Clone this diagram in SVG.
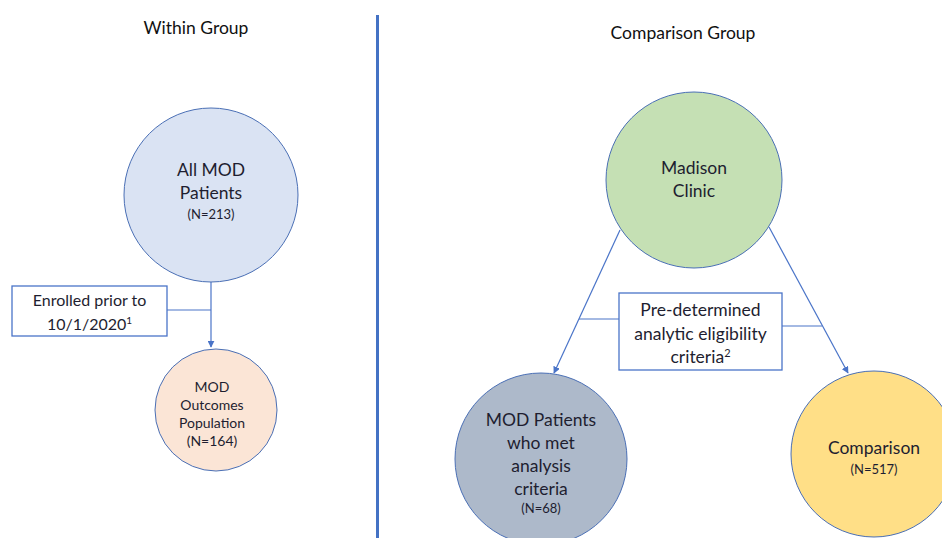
<svg xmlns="http://www.w3.org/2000/svg" width="942" height="538" viewBox="0 0 942 538">
<style>
text{font-family:Lato,"Open Sans","Liberation Sans",sans-serif;fill:#1e1e30;text-anchor:middle}
.node{stroke:#4a6fb5;stroke-width:1}
.conn{stroke:#4a74c8;stroke-width:1.2;fill:none}
.box{fill:#fff;stroke:#4a74c8;stroke-width:1.3}
.t{font-size:17.5px}
.s{font-size:13px}
.h{font-size:17.5px;fill:#111}
</style>
<defs>
<marker id="ah" viewBox="0 0 10 10" refX="9" refY="5" markerWidth="7" markerHeight="7" orient="auto" markerUnits="userSpaceOnUse">
<path d="M0,0 L10,5 L0,10 z" fill="#4a74c8"/>
</marker>
</defs>
<rect width="942" height="538" fill="#fff"/>
<text class="h" x="196" y="34">Within Group</text>
<text class="h" x="683" y="39">Comparison Group</text>
<line x1="377.5" y1="15" x2="377.5" y2="538" stroke="#4472c4" stroke-width="3"/>

<g id="connectors">
<line class="conn" x1="211" y1="282" x2="211" y2="347" marker-end="url(#ah)"/>
<line class="conn" x1="167" y1="310" x2="211" y2="310"/>
<line class="conn" x1="620" y1="230" x2="554" y2="373" marker-end="url(#ah)"/>
<line class="conn" x1="769" y1="227" x2="848" y2="373" marker-end="url(#ah)"/>
<line class="conn" x1="579" y1="319" x2="619" y2="319"/>
<line class="conn" x1="782" y1="326" x2="822" y2="326"/>
</g>

<g id="all-mod">
<circle class="node" cx="211" cy="195" r="87" fill="#dae3f3"/>
<text class="t" x="211" y="176">All MOD</text>
<text class="t" x="211" y="199">Patients</text>
<text class="s" x="211" y="219">(N=213)</text>
</g>

<g id="enrolled">
<rect class="box" x="12" y="286" width="155" height="50"/>
<text x="89.5" y="306" font-size="16">Enrolled prior to</text>
<text x="89.5" y="330" font-size="16">10/1/2020<tspan font-size="10" dy="-6">1</tspan></text>
</g>

<g id="outcomes">
<circle class="node" cx="216" cy="410" r="61" fill="#fbe5d6"/>
<text x="212" y="392" font-size="14">MOD</text>
<text x="212" y="410" font-size="14">Outcomes</text>
<text x="212" y="428" font-size="14">Population</text>
<text x="212" y="446" font-size="14">(N=164)</text>
</g>

<g id="madison">
<circle class="node" cx="694" cy="180" r="88" fill="#c5e0b4"/>
<text class="t" x="694" y="174">Madison</text>
<text class="t" x="694" y="197">Clinic</text>
</g>

<g id="criteria">
<rect class="box" x="619" y="293" width="163" height="77"/>
<text x="700.5" y="316" font-size="17.5">Pre-determined</text>
<text x="700.5" y="340" font-size="17.5">analytic eligibility</text>
<text x="700.5" y="363" font-size="17.5">criteria<tspan font-size="11" dy="-6">2</tspan></text>
</g>

<g id="mod-patients">
<circle class="node" cx="541" cy="459" r="86" fill="#adb9ca"/>
<text class="t" x="541" y="426">MOD Patients</text>
<text class="t" x="541" y="449">who met</text>
<text class="t" x="541" y="472">analysis</text>
<text class="t" x="541" y="495">criteria</text>
<text class="s" x="541" y="513">(N=68)</text>
</g>

<g id="comparison">
<circle class="node" cx="874" cy="454" r="83" fill="#ffdf87"/>
<text class="t" x="874" y="454">Comparison</text>
<text class="s" x="874" y="474">(N=517)</text>
</g>
</svg>
